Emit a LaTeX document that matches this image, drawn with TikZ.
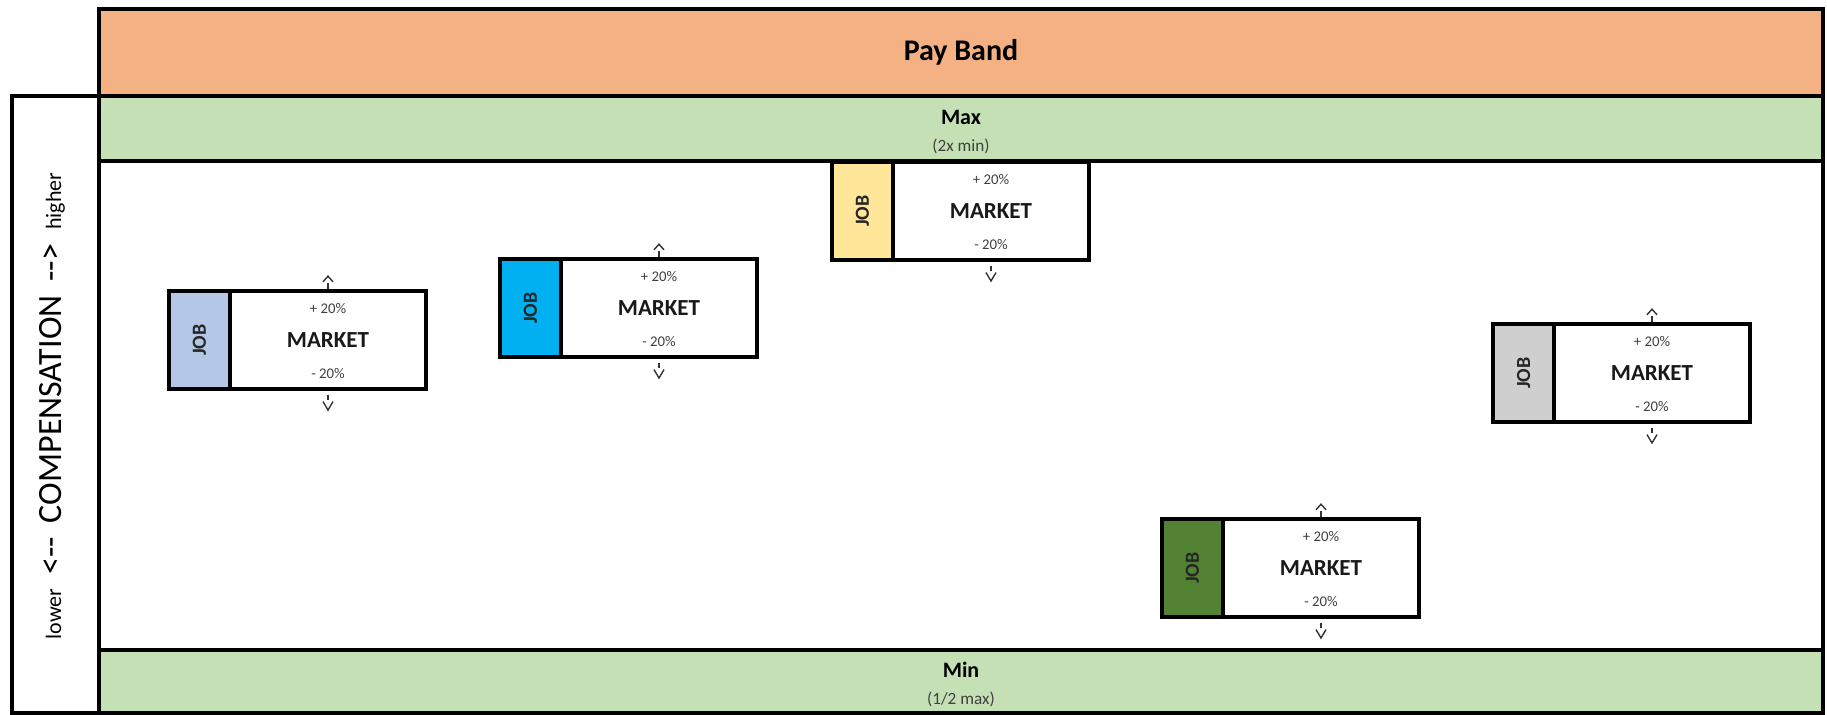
\documentclass[tikz,border=0pt]{standalone}
\usepackage{fontspec}
\setmainfont{Carlito}
\usepackage{graphicx}
\definecolor{payorange}{HTML}{F4B183}
\definecolor{bandgreen}{HTML}{C5E0B4}
\definecolor{joblav}{HTML}{B4C7E7}
\definecolor{jobsky}{HTML}{00B0F0}
\definecolor{jobsun}{HTML}{FFE699}
\definecolor{jobleaf}{HTML}{548235}
\definecolor{jobash}{HTML}{CFCFCF}
\definecolor{pctgray}{HTML}{404040}
\tikzset{
  frame/.style={draw=black,line width=1.6pt},
  jobpart/.style={draw=black,line width=2pt,minimum width=30.5pt,minimum height=49pt,inner sep=0pt,outer sep=0pt,
    font=\fontsize{10}{12}\selectfont\bfseries,text=black!85},
  mktpart/.style={draw=black,line width=2pt,fill=white,minimum width=98pt,minimum height=49pt,inner sep=0pt,outer sep=0pt},
  mkttext/.style={font=\fontsize{11.5}{13}\selectfont\bfseries,text=black!90,inner sep=0pt},
  pcttext/.style={font=\fontsize{7.4}{9}\selectfont,text=pctgray,inner sep=0pt},
  tick/.style={draw=black!80,line width=0.7pt},
}
% one job box: name, colour, left x, centre y
\newcommand{\jobbox}[4]{%
  \node[jobpart,fill=#2,anchor=west] (#1job) at (#3,#4) {\rotatebox{90}{JOB}};
  \node[mktpart,anchor=west] (#1mkt) at (#1job.east) {};
  \node[mkttext] (#1name) at (#1mkt.center) {MARKET};
  \node[pcttext] (#1plus) at ([yshift=15.5pt]#1mkt.center) {+ 20\%};
  \node[pcttext] (#1minus) at ([yshift=-17pt]#1mkt.center) {- 20\%};
  \draw[tick] ([yshift=-3pt]#1mkt.south) -- ([yshift=-5.5pt]#1mkt.south);
  \draw[tick] ([xshift=-2.5pt,yshift=-6.3pt]#1mkt.south) -- ([yshift=-10.5pt]#1mkt.south)
    -- ([xshift=2.5pt,yshift=-6.3pt]#1mkt.south);
}
\begin{document}
\begin{tikzpicture}[x=0.5pt,y=-0.5pt]
\useasboundingbox (0,0) rectangle (1827,715);
% bands
\filldraw[frame,fill=payorange] (99,9) rectangle (1823,96);
\filldraw[frame,fill=bandgreen] (99,96) rectangle (1823,161);
\draw[frame] (99,161) rectangle (1823,650);
\filldraw[frame,fill=bandgreen] (99,650) rectangle (1823,713);
\draw[frame] (12,96) rectangle (99,713);
\node[font=\fontsize{15}{18}\selectfont\bfseries] (paytext) at (961,52) {Pay Band};
\node[font=\fontsize{11}{13}\selectfont\bfseries] (maxtext) at (961,117) {Max};
\node[font=\fontsize{8.6}{10}\selectfont,text=pctgray] (maxnote) at (961,146) {(2x min)};
\node[font=\fontsize{11}{13}\selectfont\bfseries] (mintext) at (961,670) {Min};
\node[font=\fontsize{8.6}{10}\selectfont,text=pctgray] (minnote) at (961,699) {(1/2 max)};
% axis label
\node[rotate=90,text=black] (axis) at (52,406)
  {{\fontsize{11}{13}\selectfont lower}\hspace{7pt}{\fontsize{17}{20}\selectfont <-{}-\hspace{7pt}COMPENSATION\hspace{7pt}-{}->}\hspace{7pt}{\fontsize{11}{13}\selectfont higher}};
% jobs
\jobbox{A}{joblav}{169}{340}
\jobbox{B}{jobsky}{500}{308}
\jobbox{C}{jobsun}{832}{211}
\jobbox{D}{jobleaf}{1162}{568}
\jobbox{E}{jobash}{1493}{373}
\foreach \b in {A,B,D,E}{
  \draw[tick] ([yshift=1pt]\b mkt.north) -- ([yshift=4pt]\b mkt.north);
  \draw[tick] ([xshift=-2.5pt,yshift=4.6pt]\b mkt.north) -- ([yshift=7.4pt]\b mkt.north)
    -- ([xshift=2.5pt,yshift=4.6pt]\b mkt.north);
}
\end{tikzpicture}
\end{document}
